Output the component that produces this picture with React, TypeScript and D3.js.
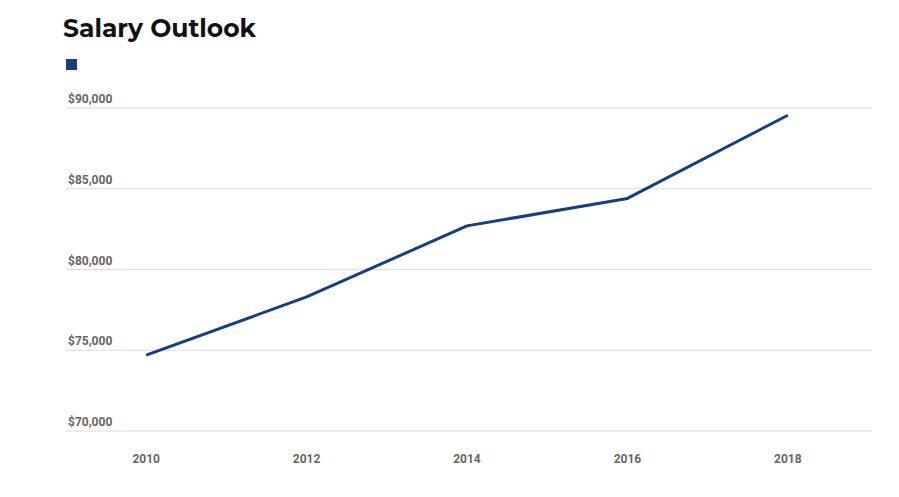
import React from "react";
import * as d3 from "d3";

const years = ["2010", "2012", "2014", "2016", "2018"];
const salaries = [74700, 78300, 82700, 84400, 89550];
const yTicks = [70000, 75000, 80000, 85000, 90000];
const title = "Salary Outlook";

const W = 899;
const H = 497;
const LINE = "#163e80";

export default function App() {
  const x = d3.scaleBand<string>().domain(years).range([66, 868]).padding(0);
  const y = d3.scaleLinear().domain([70000, 90000]).range([431, 108]);
  const fmt = (v: number) => "$" + d3.format(",")(v);
  const line = d3
    .line<number>()
    .x((_, i) => (x(years[i]) as number) + x.bandwidth() / 2)
    .y((d) => y(d));

  return (
    <svg width={W} height={H} style={{ position: "absolute", left: 0, top: 0, background: "#fff" }}>
      <text x={63} y={37} fontFamily="Montserrat, 'Open Sans', sans-serif" fontWeight={700} fontSize={25} fill="#111">
        {title}
      </text>
      <rect x={66} y={59} width={11} height={11} fill={LINE} />
      {yTicks.map((t) => (
        <g key={t}>
          <line x1={66} x2={872} y1={y(t)} y2={y(t)} stroke="#dcdcdc" strokeWidth={1} />
          <text x={68} y={y(t) - 5} fontFamily="Roboto, sans-serif" fontWeight={700} fontSize={12} fill="#666">
            {fmt(t)}
          </text>
        </g>
      ))}
      {years.map((yr) => (
        <text
          key={yr}
          x={(x(yr) as number) + x.bandwidth() / 2}
          y={463}
          textAnchor="middle"
          fontFamily="Roboto, sans-serif"
          fontWeight={700}
          fontSize={12}
          fill="#666"
        >
          {yr}
        </text>
      ))}
      <path d={line(salaries) || ""} fill="none" stroke={LINE} strokeWidth={3} strokeLinejoin="round" />
    </svg>
  );
}
